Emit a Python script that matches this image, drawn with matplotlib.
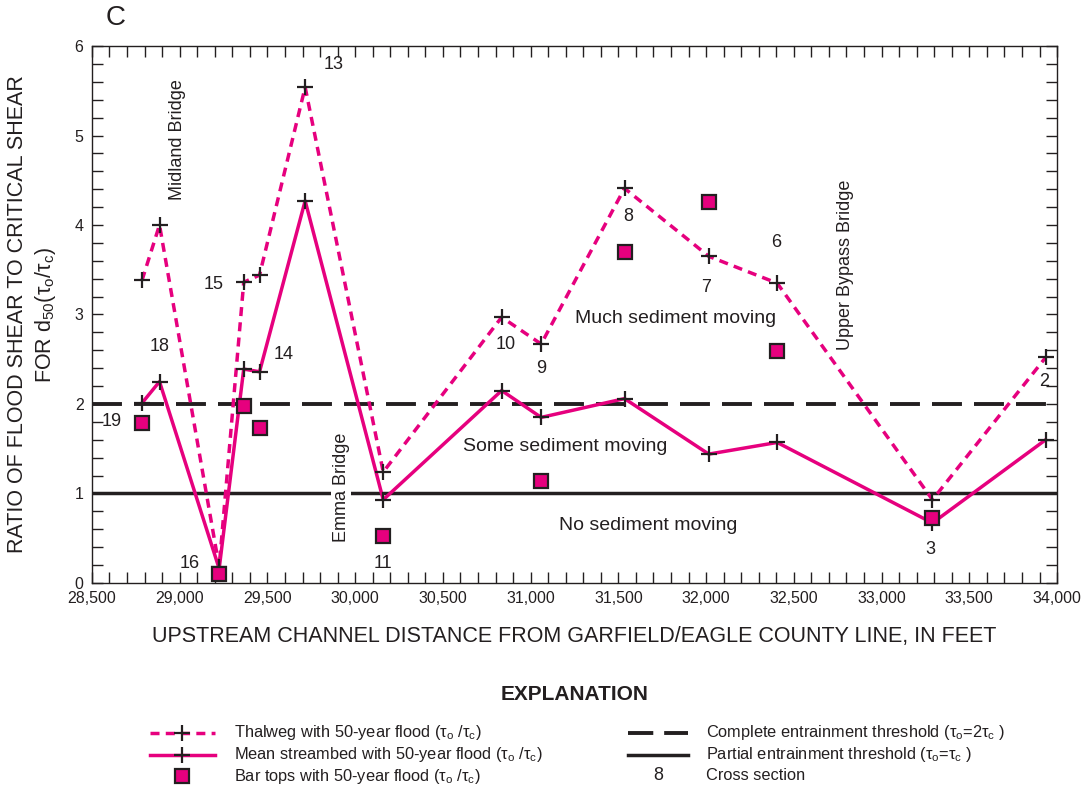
import matplotlib
matplotlib.use("Agg")
import matplotlib.pyplot as plt
from matplotlib.lines import Line2D
from matplotlib.ticker import MultipleLocator, FuncFormatter

plt.rcParams['font.family'] = ['Liberation Sans', 'DejaVu Sans']
plt.rcParams['mathtext.fontset'] = 'custom'
plt.rcParams['mathtext.rm'] = 'Liberation Sans'

# cross sections, upstream order
sections = ["19", "18", "16", "15", "14", "13", "11", "10", "9", "8", "7", "6", "3", "2"]
distance = [28785, 28885, 29225, 29365, 29455, 29715, 30160, 30835, 31060, 31535, 32015, 32405, 33290, 33935]
thalweg = [3.38, 4.00, 0.18, 3.36, 3.44, 5.54, 1.24, 2.97, 2.67, 4.41, 3.65, 3.35, 0.93, 2.52]
mean_bed = [2.01, 2.25, 0.16, 2.39, 2.36, 4.27, 0.93, 2.15, 1.85, 2.06, 1.44, 1.57, 0.67, 1.60]

bar_sections = ["19", "16", "15", "14", "11", "9", "8", "7", "6", "3"]
bar_distance = [28785, 29225, 29365, 29455, 30160, 31060, 31535, 32015, 32405, 33290]
bar_tops = [1.79, 0.10, 1.98, 1.73, 0.53, 1.14, 3.70, 4.26, 2.59, 0.73]

# where the section numbers are written (data units)
label_x = [28615, 28885, 29055, 29195, 29595, 29880, 30160, 30860, 31060, 31555, 32000, 32400, 33280, 33925]
label_y = [1.80, 2.64, 0.22, 3.33, 2.55, 5.79, 0.22, 2.66, 2.40, 4.09, 3.30, 3.81, 0.37, 2.25]

pink = "#E6007E"
dark = "#231F20"
tau = "(τ$_\\mathrm{o}$ /τ$_\\mathrm{c}$)"

fig = plt.figure(figsize=(10.92, 7.88), dpi=100)
ax = fig.add_axes([0.0842, 0.2602, 0.8838, 0.6814])

ax.axhline(2, color=dark, lw=2.8, dashes=(7.7, 3.1), zorder=2)
ax.axhline(1, color=dark, lw=2.5, zorder=2)

ax.plot(distance, thalweg, color=pink, lw=2.5, dashes=(2.6, 1.8), zorder=3)
ax.plot(distance, mean_bed, color=pink, lw=2.5, zorder=3)
ax.plot(distance, thalweg, ls="none", marker="+", ms=11, mew=1.6, color=dark, zorder=5)
ax.plot(distance, mean_bed, ls="none", marker="+", ms=11, mew=1.6, color=dark, zorder=5)
ax.plot(bar_distance, bar_tops, ls="none", marker="s", ms=9.5, mfc=pink, mec=dark, mew=1.6, zorder=6)

for s, lx, ly in zip(sections, label_x, label_y):
    ax.text(lx, ly, s, fontsize=13, ha="center", va="center", color=dark, zorder=7)

ax.text(28990, 4.95, "Midland Bridge", rotation=90, fontsize=13, ha="center", va="center", color=dark)
ax.text(29920, 1.07, "Emma Bridge", rotation=90, fontsize=13, ha="center", va="center", color=dark,
        bbox=dict(facecolor="white", edgecolor="none", pad=1), zorder=4)
ax.text(32795, 3.55, "Upper Bypass Bridge", rotation=90, fontsize=13, ha="center", va="center", color=dark)
ax.text(31825, 2.95, "Much sediment moving", fontsize=14, ha="center", va="center", color=dark)
ax.text(31195, 1.52, "Some sediment moving", fontsize=14, ha="center", va="center", color=dark)
ax.text(31670, 0.64, "No sediment moving", fontsize=14, ha="center", va="center", color=dark)

ax.set_xlim(28500, 34000)
ax.set_ylim(0, 6)
ax.xaxis.set_major_locator(MultipleLocator(500))
ax.xaxis.set_minor_locator(MultipleLocator(100))
ax.yaxis.set_major_locator(MultipleLocator(1))
ax.yaxis.set_minor_locator(MultipleLocator(0.2))
ax.xaxis.set_major_formatter(FuncFormatter(lambda v, p: "{:,.0f}".format(v)))
ax.tick_params(which="both", direction="in", top=True, right=True, length=8, width=1, colors=dark,
               labelsize=11.5)
ax.tick_params(which="major", pad=6)
for sp in ax.spines.values():
    sp.set_color(dark)
    sp.set_linewidth(1)

ax.set_xlabel("UPSTREAM CHANNEL DISTANCE FROM GARFIELD/EAGLE COUNTY LINE, IN FEET", fontsize=15.5,
              color=dark, labelpad=14)
ax.set_ylabel("RATIO OF FLOOD SHEAR TO CRITICAL SHEAR\nFOR d$_\\mathrm{50}$" + tau.replace(" ", ""),
              fontsize=15.5, color=dark, labelpad=12, linespacing=1.25)
fig.text(0.106, 0.977, "C", fontsize=20, ha="center", va="center", color=dark)

# explanation block, drawn on an overlay in pixel units
lg = fig.add_axes([0, 0, 1, 1])
lg.set_xlim(0, 1092)
lg.set_ylim(788, 0)
lg.axis("off")
lg.text(575, 695, "EXPLANATION", fontsize=15, fontweight="bold", ha="center", va="center", color=dark)

rows = [733, 755, 776]
lg.add_line(Line2D([150, 215], [rows[0]] * 2, color=pink, lw=2.5, dashes=(2.6, 1.8)))
lg.add_line(Line2D([150, 215], [rows[1]] * 2, color=pink, lw=2.5))
lg.plot([182, 182], rows[:2], ls="none", marker="+", ms=11, mew=1.6, color=dark)
lg.plot([182], [rows[2]], ls="none", marker="s", ms=9.5, mfc=pink, mec=dark, mew=1.6)
left_text = ["Thalweg with 50-year flood " + tau,
             "Mean streambed with 50-year flood " + tau,
             "Bar tops with 50-year flood " + tau]
for t, r in zip(left_text, rows):
    lg.text(234, r, t, fontsize=11.8, ha="left", va="center", color=dark)

lg.add_line(Line2D([628, 688], [rows[0]] * 2, color=dark, lw=2.8, dashes=(6.5, 2.8)))
lg.add_line(Line2D([628, 688], [rows[1]] * 2, color=dark, lw=2.5))
lg.text(658, rows[2], "8", fontsize=13, ha="center", va="center", color=dark)
right_text = ["Complete entrainment threshold (τ$_\\mathrm{o}$=2τ$_\\mathrm{c}$ )",
              "Partial entrainment threshold (τ$_\\mathrm{o}$=τ$_\\mathrm{c}$ )",
              "Cross section"]
for t, r in zip(right_text, rows):
    lg.text(706, r, t, fontsize=11.8, ha="left", va="center", color=dark)

fig.savefig("out.png", dpi=100)
